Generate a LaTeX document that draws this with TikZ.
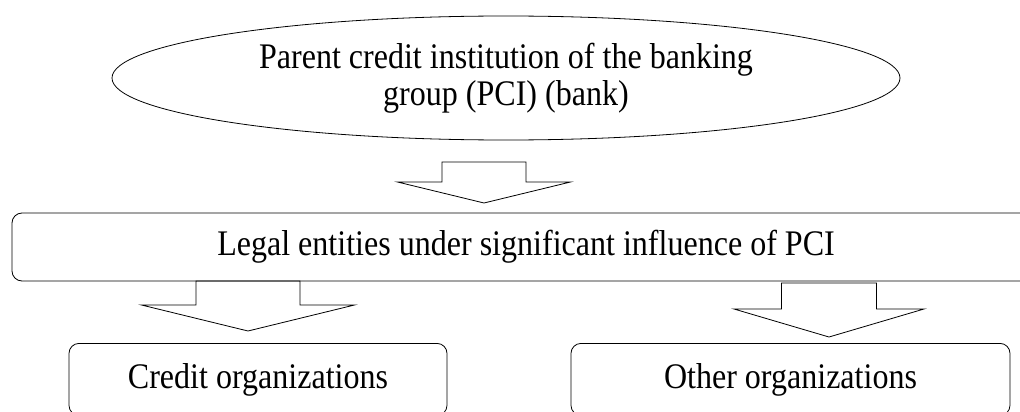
\documentclass[tikz,border=0pt]{standalone}
\usepackage{fontspec}
\setmainfont{Liberation Serif}[FakeStretch=0.89]
\usetikzlibrary{positioning,shapes.geometric}

% block arrow pointing down: x, top, base of head, tip, half shaft, half head
\newcommand{\downblock}[6]{%
  \draw[blockarrow] (#1-#5,#2) -- (#1-#5,#3) -- (#1-#6,#3) -- (#1,#4)
    -- (#1+#6,#3) -- (#1+#5,#3) -- (#1+#5,#2) -- cycle;}

\begin{document}
\begin{tikzpicture}[x=1pt,y=-1pt,
    txt/.style={font=\fontsize{36}{37}\selectfont, align=center},
    box/.style={txt, draw, rounded corners=10pt, line width=0.8pt},
    oval/.style={txt, draw, ellipse, inner sep=0pt, line width=0.8pt},
    blockarrow/.style={draw, line width=0.8pt, line join=miter}]
    \useasboundingbox (0,0) rectangle (1020,412);

    % Parent credit institution
    \node[oval, minimum width=788pt, minimum height=124pt] (pci) at (506,78)
        {Parent credit institution of the banking\\group (PCI) (bank)};

    % Legal entities (runs off the right edge)
    \node[box, minimum width=1028pt, minimum height=68pt] (legal) at (526,247)
        {Legal entities under significant influence of PCI};

    % Lower boxes
    \node[box, minimum width=378pt, minimum height=72pt, anchor=north] (credit) at (258,343)
        {Credit organizations};
    \node[box, minimum width=439pt, minimum height=72pt, anchor=north] (other) at (790.5,343)
        {Other organizations};

    % Block arrows
    \downblock{484}{162}{182}{203}{42}{86.5}
    \downblock{248}{281}{305}{331}{52}{106.5}
    \downblock{829}{283}{309}{337}{47.5}{95}
\end{tikzpicture}
\end{document}
